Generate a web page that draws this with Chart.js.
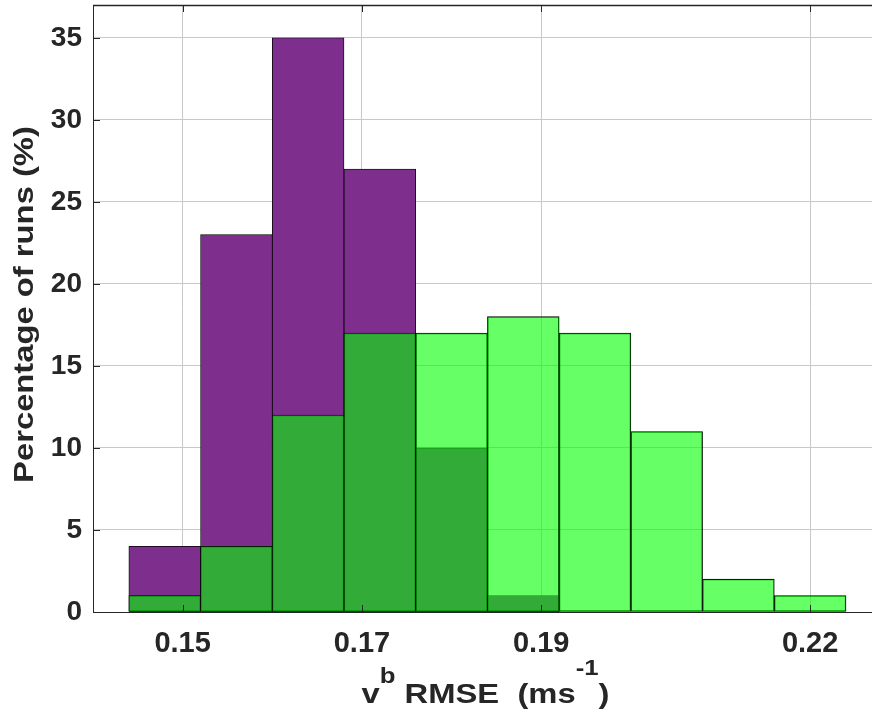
<!DOCTYPE html>
<html>
<head>
<meta charset="utf-8">
<title>RMSE histogram</title>
<script src="https://cdn.jsdelivr.net/npm/chart.js@4.4.1/dist/chart.umd.min.js"></script>
<style>
	body { margin: 0; background: #fff; }
	#wrap { width: 872px; height: 713px; position: relative; }
</style>
</head>
<body>
<div id="wrap"><canvas id="myChart"></canvas></div>
<script>
// histogram bins, width 0.008
var binCenters = [0.148, 0.156, 0.164, 0.172, 0.180, 0.188, 0.196, 0.204, 0.212, 0.220];
var purpleRuns = [4, 23, 35, 27, 10, 1, 0, 0, 0, 0];
var greenRuns  = [1, 4, 12, 17, 17, 18, 17, 11, 2, 1];
var xTickValues = [0.15, 0.17, 0.19, 0.22];
var yTickValues = [0, 5, 10, 15, 20, 25, 30, 35];
var yTitle = "Percentage of runs (%)";
// base, superscript, base, superscript, base
var xTitleParts = ["v", "b", " RMSE  (ms", "-1", ")"];

var FONT = '"Liberation Sans", Arial, Helvetica, sans-serif';
var AXIS = '#262626';

function toPoints(vals){
	var pts = [];
	for(var i = 0; i < vals.length; i++){
		pts.push({x: binCenters[i], y: vals[i]});
	}
	return pts;
}

// inner tick marks, top box line and the two axis titles
var decorPlugin = {
	id: 'decor',
	afterDraw: function(chart){
		var ctx = chart.ctx, a = chart.chartArea;
		var xs = chart.scales.x, ys = chart.scales.y;
		ctx.save();
		ctx.strokeStyle = AXIS;
		ctx.lineWidth = 1.5;
		ctx.beginPath();
		ctx.moveTo(a.left, a.top + 0.5);
		ctx.lineTo(a.right, a.top + 0.5);
		ctx.stroke();
		ctx.lineWidth = 1;
		ctx.beginPath();
		for(var i = 0; i < xTickValues.length; i++){
			var px = Math.round(xs.getPixelForValue(xTickValues[i])) + 0.5;
			ctx.moveTo(px, a.bottom); ctx.lineTo(px, a.bottom - 7);
			ctx.moveTo(px, a.top); ctx.lineTo(px, a.top + 7);
		}
		for(var j = 0; j < yTickValues.length; j++){
			var py = Math.round(ys.getPixelForValue(yTickValues[j])) + 0.5;
			ctx.moveTo(a.left, py); ctx.lineTo(a.left + 7, py);
		}
		ctx.stroke();

		ctx.fillStyle = AXIS;
		var stretch = 1.17;
		// y title
		ctx.save();
		ctx.font = 'bold 28px ' + FONT;
		ctx.translate(33, (a.top + a.bottom) / 2 - 4);
		ctx.rotate(-Math.PI / 2);
		ctx.scale(stretch, 1);
		ctx.textAlign = 'center';
		ctx.textBaseline = 'alphabetic';
		ctx.fillText(yTitle, 0, 0);
		ctx.restore();

		// x title with superscripts
		var bigFont = 'bold 28px ' + FONT, smallFont = 'bold 22px ' + FONT;
		var total = 0, widths = [];
		for(var k = 0; k < xTitleParts.length; k++){
			ctx.font = (k % 2) ? smallFont : bigFont;
			widths[k] = ctx.measureText(xTitleParts[k]).width * stretch;
			total += widths[k];
		}
		var x = (a.left + a.right) / 2 + 3 - total / 2, base = 703;
		ctx.textAlign = 'left';
		for(var m = 0; m < xTitleParts.length; m++){
			ctx.save();
			ctx.font = (m % 2) ? smallFont : bigFont;
			var raise = (m === 1) ? 20 : (m === 3 ? 28 : 0);
			ctx.translate(x, base - raise);
			ctx.scale(stretch, 1);
			ctx.fillText(xTitleParts[m], 0, 0);
			ctx.restore();
			x += widths[m];
		}
		ctx.restore();
	}
};

function setup(){
	var ctx = document.getElementById('myChart').getContext('2d');
	var chart = new Chart(ctx, {
		type: 'bar',
		data: {
			datasets: [{
				label: 'green',
				data: toPoints(greenRuns),
				backgroundColor: 'rgba(0, 255, 0, 0.6)',
				borderColor: '#000',
				borderWidth: 0.8,
				borderSkipped: false,
				barPercentage: 1,
				categoryPercentage: 1,
				grouped: false
			}, {
				label: 'purple',
				data: toPoints(purpleRuns),
				backgroundColor: '#7e2f8e',
				borderColor: '#000',
				borderWidth: 0.8,
				borderSkipped: false,
				barPercentage: 1,
				categoryPercentage: 1,
				grouped: false
			}]
		},
		options: {
			responsive: true,
			maintainAspectRatio: false,
			animation: false,
			layout: { padding: { top: 5, left: 0, right: 0, bottom: 0 } },
			plugins: { legend: { display: false }, tooltip: { enabled: false } },
			scales: {
				x: {
					type: 'linear',
					min: 0.14,
					max: 0.2269,
					offset: false,
					grid: { color: '#c8c8c8', lineWidth: 1, drawTicks: false, offset: false },
					border: { color: AXIS, width: 1, z: 1 },
					afterBuildTicks: function(s){
						s.ticks = xTickValues.map(function(v){ return {value: v}; });
					},
					afterFit: function(s){
						s.height = 101;
						s.paddingLeft = 0; s.paddingRight = 0;
					},
					ticks: {
						autoSkip: false, maxRotation: 0, padding: 15, color: AXIS,
						font: { family: FONT, size: 29, weight: 'bold' },
						callback: function(v){ return v.toFixed(2); }
					}
				},
				y: {
					min: 0,
					max: 37,
					grid: { color: '#c8c8c8', lineWidth: 1, drawTicks: false },
					border: { color: AXIS, width: 1, z: 1 },
					afterBuildTicks: function(s){
						s.ticks = yTickValues.map(function(v){ return {value: v}; });
					},
					afterFit: function(s){
						s.width = 93;
						s.paddingTop = 0; s.paddingBottom = 0;
					},
					ticks: {
						padding: 11, color: AXIS,
						font: { family: FONT, size: 28, weight: 'bold' }
					}
				}
			}
		},
		plugins: [decorPlugin]
	});
	console.log(chart.chartArea);
}
window.onload = setup;
</script>
</body>
</html>
